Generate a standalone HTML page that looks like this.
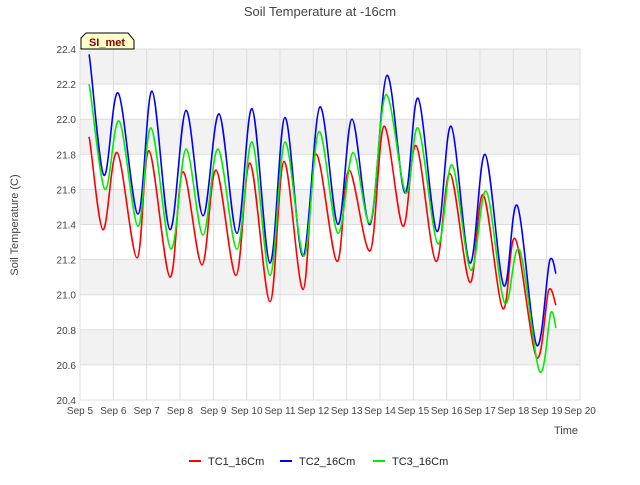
<!DOCTYPE html>
<html><head><meta charset="utf-8"><style>
body{margin:0;background:#fff;font-family:"Liberation Sans",sans-serif;}
svg text{font-family:"Liberation Sans",sans-serif;}
</style></head><body>
<svg id="chart" width="640" height="480">
<rect width="640" height="480" fill="#fff"/>
<g id="bands"></g>
<g id="grid"></g>
<g id="xticks"></g>
<g id="yticks"></g>
<g id="series"></g>
<text x="320" y="16" text-anchor="middle" font-size="13" fill="#444">Soil Temperature at -16cm</text>
<text x="566" y="434" text-anchor="middle" font-size="11" fill="#444">Time</text>
<text transform="translate(18,225) rotate(-90)" text-anchor="middle" font-size="11" fill="#444">Soil Temperature (C)</text>
<g>
<path d="M81,49 L81,38 L86,33 L128,33 L134,40 L134,49 Z" fill="#ffffcc" stroke="#000"/>
<text x="107" y="46" text-anchor="middle" font-size="11" font-weight="bold" fill="#8b0000">SI_met</text>
</g>
<g id="legend"></g>
</svg>
<script>
const xTicks=["Sep 5","Sep 6","Sep 7","Sep 8","Sep 9","Sep 10","Sep 11","Sep 12","Sep 13","Sep 14","Sep 15","Sep 16","Sep 17","Sep 18","Sep 19","Sep 20"];
const yTicks=[20.4,20.6,20.8,21.0,21.2,21.4,21.6,21.8,22.0,22.2,22.4];
const seriesNames=["TC1_16Cm","TC2_16Cm","TC3_16Cm"];
const seriesColors=["#ff0000","#0000ff","#00ee00"];
const tc1Times=[0.27,0.69,1.11,1.71,2.07,2.7,3.09,3.66,4.08,4.68,5.1,5.7,6.12,6.69,7.08,7.71,8.07,8.7,9.12,9.69,10.08,10.68,11.1,11.7,12.09,12.69,13.05,13.71,14.07,14.28];
const tc1Vals=[21.9,21.37,21.81,21.21,21.82,21.10,21.70,21.17,21.71,21.11,21.75,20.96,21.76,21.03,21.80,21.19,21.71,21.25,21.96,21.39,21.85,21.19,21.69,21.07,21.57,20.92,21.32,20.64,21.03,20.94];
const tc2Times=[0.27,0.72,1.14,1.74,2.16,2.7,3.18,3.69,4.17,4.71,5.16,5.7,6.15,6.69,7.2,7.74,8.16,8.7,9.21,9.75,10.14,10.71,11.13,11.7,12.15,12.72,13.11,13.71,14.1,14.28];
const tc2Vals=[22.37,21.68,22.15,21.46,22.16,21.37,22.05,21.45,22.03,21.35,22.06,21.18,22.01,21.22,22.07,21.40,22.0,21.4,22.25,21.58,22.12,21.36,21.96,21.18,21.80,21.05,21.51,20.71,21.20,21.12];
const tc3Times=[0.27,0.75,1.17,1.74,2.13,2.73,3.18,3.69,4.14,4.71,5.16,5.7,6.15,6.72,7.17,7.74,8.19,8.7,9.18,9.78,10.14,10.74,11.16,11.73,12.18,12.75,13.17,13.8,14.13,14.28];
const tc3Vals=[22.2,21.60,21.99,21.39,21.95,21.26,21.83,21.34,21.83,21.26,21.87,21.11,21.87,21.22,21.93,21.35,21.81,21.41,22.14,21.58,21.95,21.29,21.74,21.14,21.59,20.95,21.26,20.56,20.90,20.81];
const X0=80,X1=580,Y0=400,Y1=49,YMIN=20.4,YMAX=22.4;
const xs=t=>X0+(X1-X0)*t/15;
const ys=v=>Y0-(Y0-Y1)*(v-YMIN)/(YMAX-YMIN);
const NS="http://www.w3.org/2000/svg";
function mk(tag,attrs,parent){const e=document.createElementNS(NS,tag);for(const k in attrs)e.setAttribute(k,attrs[k]);parent.appendChild(e);return e;}
const bands=document.getElementById('bands'),grid=document.getElementById('grid');
mk('rect',{x:X0,y:Y1,width:X1-X0,height:Y0-Y1,fill:'#fff',stroke:'#e4e4e4'},bands);
for(let i=0;i<yTicks.length-1;i++){if(i%2===1){const r=mk('rect',{x:X0,y:ys(yTicks[i+1]),width:X1-X0,height:ys(yTicks[i])-ys(yTicks[i+1]),fill:'#f2f2f2'},bands);

}}
const yt=document.getElementById('yticks');
yTicks.forEach(v=>{mk('line',{x1:X0,x2:X1,y1:ys(v),y2:ys(v),stroke:'#ddd'},grid);
const t=mk('text',{x:X0-4,y:ys(v)+4,'text-anchor':'end','font-size':'10',fill:'#444'},yt);t.textContent=v.toFixed(1);

});
const xt=document.getElementById('xticks');
xTicks.forEach((s,i)=>{mk('line',{x1:xs(i),x2:xs(i),y1:Y1,y2:Y0,stroke:'#ddd'},grid);
const t=mk('text',{x:xs(i),y:Y0+14,'text-anchor':'middle','font-size':'10',fill:'#444'},xt);t.textContent=s;

});
function pathFor(T,V){const p=T.map((t,i)=>[xs(t),ys(V[i])]);let d='M'+p[0][0]+','+p[0][1];
for(let i=0;i<p.length-1;i++){const p0=p[Math.max(0,i-1)],p1=p[i],p2=p[i+1],p3=p[Math.min(p.length-1,i+2)];
const c1=[p1[0]+(p2[0]-p0[0])/6,p1[1]+(p2[1]-p0[1])/6*0.5],c2=[p2[0]-(p3[0]-p1[0])/6,p2[1]-(p3[1]-p1[1])/6*0.5];
d+=' C'+c1[0]+','+c1[1]+' '+c2[0]+','+c2[1]+' '+p2[0]+','+p2[1];}return d;}
const sg=document.getElementById('series');
const data=[[tc1Times,tc1Vals],[tc2Times,tc2Vals],[tc3Times,tc3Vals]];
data.forEach((d,i)=>{const p=mk('path',{d:pathFor(d[0],d[1]),fill:'none',stroke:seriesColors[i],'stroke-width':'1.6'},sg);

});
const lg=document.getElementById('legend');const lx=[189,280,373];
seriesNames.forEach((n,i)=>{const g=mk('g',{},lg);


mk('line',{x1:lx[i],x2:lx[i]+12,y1:461,y2:461,stroke:seriesColors[i],'stroke-width':'2'},g);
const t=mk('text',{x:lx[i]+19,y:465,'font-size':'11',fill:'#222'},g);t.textContent=n;});
</script>
</body></html>
